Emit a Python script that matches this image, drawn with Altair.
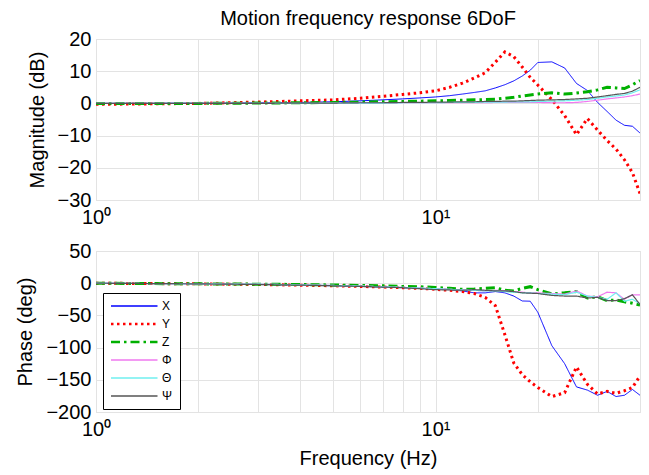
import altair as alt
import pandas as pd

# ---------------- data ----------------
freq = [1, 2, 3, 4, 5, 6, 7, 8, 9, 10, 11, 12, 13, 14, 15, 16, 17, 18, 19, 20,
        22, 24, 26, 28, 30, 32, 34, 36, 38, 40]

series_names = ["X", "Y", "Z", "Φ", "Θ", "Ψ"]

mag_X = [0.0, 0.1, 0.2, 0.3, 0.5, 0.8, 1.1, 1.4, 1.7, 2.0, 2.4, 2.9, 3.4, 3.9, 4.8,
         5.8, 7.0, 8.5, 10.3, 12.7, 12.9, 11.0, 6.2, 4.0, 0.3, -2.5, -5.2, -6.8, -7.1, -9.2]
mag_Y = [-0.3, 0.0, 0.4, 0.8, 1.1, 1.6, 2.2, 2.8, 3.3, 3.9, 5.0, 6.3, 7.9, 9.5, 12.8,
         16.0, 14.5, 11.3, 8.1, 5.7, 1.2, -3.8, -9.7, -4.7, -8.3, -11.5, -14.2, -17.5, -21.5, -28.0]
mag_Z = [0.0, 0.0, 0.1, 0.2, 0.3, 0.4, 0.5, 0.6, 0.7, 0.8, 0.9, 1.0, 1.1, 1.2, 1.3,
         1.6, 1.9, 2.3, 2.6, 2.9, 3.3, 2.9, 3.2, 3.6, 4.2, 5.0, 4.8, 4.6, 5.8, 7.1]
mag_Phi = [0.0, 0.0, 0.0, 0.0, 0.1, 0.1, 0.1, 0.2, 0.2, 0.2, 0.2, 0.2, 0.2, 0.2, 0.3,
           0.3, 0.3, 0.3, 0.3, 0.3, 0.2, 0.2, 0.3, 0.6, 1.0, 1.4, 1.7, 2.0, 2.4, 2.9]
mag_Theta = [0.0, 0.0, 0.0, 0.0, 0.1, 0.1, 0.1, 0.2, 0.2, 0.2, 0.3, 0.3, 0.3, 0.4, 0.4,
             0.4, 0.5, 0.5, 0.5, 0.6, 0.7, 0.8, 1.0, 1.2, 1.6, 2.0, 2.3, 2.6, 3.3, 4.2]
mag_Psi = [0.0, 0.0, 0.0, 0.1, 0.1, 0.2, 0.2, 0.3, 0.3, 0.4, 0.4, 0.5, 0.5, 0.6, 0.6,
           0.7, 0.7, 0.8, 0.9, 1.0, 1.1, 1.2, 1.4, 1.6, 2.0, 2.4, 2.8, 3.1, 3.8, 5.0]

phase_X = [0, -1, -2, -3, -4, -5, -6, -7, -8, -9, -10, -12, -15, -15, -13,
           -15, -20, -27.6, -28, -45, -97, -125, -161, -166, -174, -168, -176, -174, -165, -174]
phase_Y = [0, -1, -2, -3, -4, -5, -6, -7, -8, -9.5, -11, -13, -16, -22, -35,
           -80, -124, -142, -153, -162, -176, -170, -130, -157, -172, -168, -171, -167, -162, -144]
phase_Z = [0, -1, -1.5, -2, -2.8, -3.5, -4, -5, -5.5, -6.5, -8, -9.5, -9, -8, -7,
           -11, -12, -8, -5.4, -10, -16.7, -15, -13, -23, -21, -27, -26, -29, -31, -34]
phase_Phi = [0, -1, -1.5, -2.5, -3.5, -4.5, -5.5, -6.5, -7.5, -8.5, -9.5, -10.5, -11, -12, -11,
             -12, -13, -14, -15, -15, -16, -17, -12, -20, -21, -14, -15, -25, -18, -18]
phase_Theta = [0, -1, -1.5, -2.5, -3.5, -4.5, -5.5, -6.5, -7.5, -8.5, -9.5, -10.5, -11, -12, -12,
               -13, -14, -15, -15, -16, -17, -18, -14, -20, -22, -25, -15, -28, -25, -32]
phase_Psi = [0, -1, -2, -3, -4, -5, -6, -7, -8.5, -10, -10.5, -11, -10, -11, -12,
             -12, -13, -15, -15.5, -16, -19, -20, -20, -23, -22, -27, -27, -24, -18, -33]

mags = [mag_X, mag_Y, mag_Z, mag_Phi, mag_Theta, mag_Psi]
phases = [phase_X, phase_Y, phase_Z, phase_Phi, phase_Theta, phase_Psi]

x_ticks = [1, 2, 3, 4, 5, 6, 7, 8, 9, 10, 20, 30, 40]
mag_ticks = [-30, -20, -10, 0, 10, 20]
phase_ticks = [-200, -150, -100, -50, 0, 50]

# ---------------- styling ----------------
FONT = "Liberation Sans"
colors = ["#0000FF", "#FF0000", "#00B000", "#F07AF0", "#70F0F0", "#555555"]
dashes = [[1, 0], [2.5, 3.5], [9, 4, 2.5, 4], [1, 0], [1, 0], [1, 0]]
line_widths = [1.0, 3.0, 3.0, 1.2, 1.2, 1.2]
GRID = "#E3E3E3"
W, H = 544, 161

rows = []
for name, m, p, lw in zip(series_names, mags, phases, line_widths):
    for f, mv, pv in zip(freq, m, p):
        rows.append({"freq": f, "series": name, "mag": mv, "phase": pv, "w": lw})
df = pd.DataFrame(rows)

label_expr = "datum.value == 1 ? '10⁰' : (datum.value == 10 ? '10¹' : '')"


def x_enc(title):
    return alt.X(
        "freq:Q",
        scale=alt.Scale(type="log", domain=[1, 40], nice=False),
        axis=alt.Axis(values=x_ticks, labelExpr=label_expr, title=title,
                      grid=True, gridColor=GRID, domain=False, ticks=False,
                      labelFont=FONT, labelFontSize=20, labelColor="black",
                      labelOverlap=False, labelPadding=7, labelFlush=False,
                      titleFont=FONT, titleFontSize=20, titleFontWeight="normal",
                      titleColor="black", titlePadding=9),
    )


def y_enc(field, title, dom, ticks):
    return alt.Y(
        field + ":Q",
        scale=alt.Scale(domain=dom, nice=False, zero=False),
        axis=alt.Axis(values=ticks, title=title, grid=True, gridColor=GRID,
                      domain=False, ticks=False, labelFont=FONT, labelFontSize=20,
                      labelColor="black", labelPadding=5, labelFlush=False,
                      titleFont=FONT, titleFontSize=20, titleFontWeight="normal",
                      titleColor="black", titlePadding=10),
    )


def style_encs(show_legend):
    if show_legend:
        leg = alt.Legend(
            orient="none", legendX=7, legendY=42, title=None,
            strokeColor="black", fillColor="white", padding=7,
            symbolType="M-1,0H8.3", symbolSize=100,
            symbolStrokeWidth=alt.ExprRef(
                "indexof(['Y','Z'], datum.value) >= 0 ? 2.6 : 1.3"),
            labelFont=FONT, labelFontSize=12, labelColor="black",
            rowPadding=6, labelOffset=40, cornerRadius=0,
        )
    else:
        leg = None
    dom = series_names
    return dict(
        color=alt.Color("series:N", scale=alt.Scale(domain=dom, range=colors), legend=leg),
        strokeDash=alt.StrokeDash("series:N", scale=alt.Scale(domain=dom, range=dashes), legend=leg),
        strokeWidth=alt.StrokeWidth("w:Q", scale=None, legend=None),
        order=alt.Order("freq:Q"),
    )


top = alt.Chart(df).mark_line(clip=True).encode(
    x=x_enc(None),
    y=y_enc("mag", "Magnitude (dB)", [-30, 20], mag_ticks),
    **style_encs(False),
).properties(
    width=W, height=H,
    title=alt.TitleParams("Motion frequency response 6DoF", font=FONT, fontSize=20,
                          fontWeight="normal", color="black", anchor="middle",
                          frame="group", offset=0),
)

bottom = alt.Chart(df).mark_line(clip=True).encode(
    x=x_enc("Frequency (Hz)"),
    y=y_enc("phase", "Phase (deg)", [-200, 50], phase_ticks),
    **style_encs(True),
).properties(width=W, height=H)

chart = alt.vconcat(top, bottom, spacing=12).resolve_scale(
    color="independent", strokeDash="independent"
).resolve_legend(
    color="independent", strokeDash="independent"
).configure_view(
    stroke="black", strokeWidth=1.2
).configure(
    background="white", padding={"left": 7, "top": 0, "right": 0, "bottom": 0}
)

chart.save("out.html", embed_options={"renderer": "svg", "actions": False})
